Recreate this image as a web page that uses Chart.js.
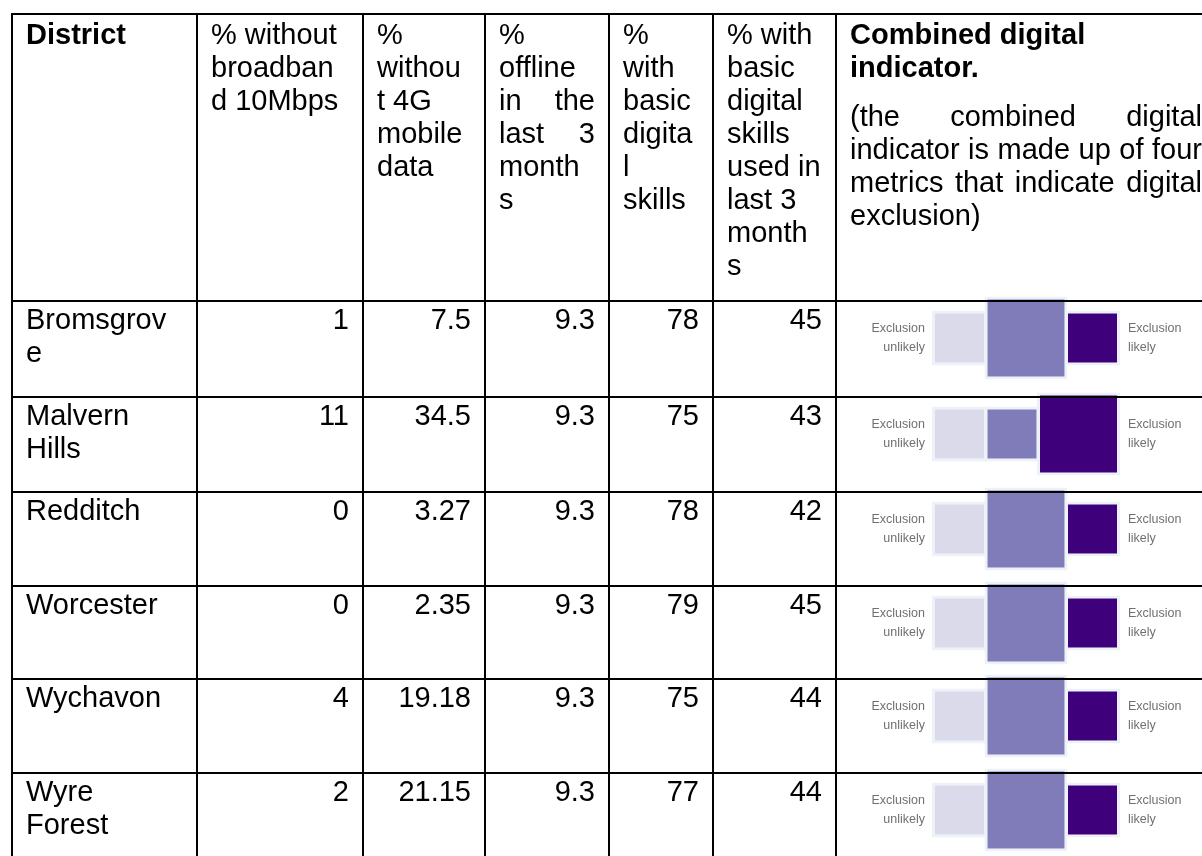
<!DOCTYPE html>
<html>
<head>
<meta charset="utf-8">
<title>Digital exclusion by district</title>
<script src="https://cdn.jsdelivr.net/npm/chart.js@4.4.0/dist/chart.umd.min.js"></script>
<style>
  html { background: #fff; }
  html, body { margin: 0; width: 1202px; height: 856px; overflow: hidden; }
  table {
    position: absolute; left: 11px; top: 13px;
    border-collapse: collapse; table-layout: fixed; width: 1204px;
    font-family: "Liberation Sans", Arial, sans-serif; font-size: 29px; line-height: 33px; color: #000;
  }
  td { border: 2px solid #000; padding: 1px 13px 0; vertical-align: top; box-sizing: border-box; }
  thead td { padding-top: 3px; height: 287px; }
  .num { text-align: right; }
  .j { text-align: justify; text-align-last: justify; }
  .note { margin-top: 16px; }
  .r0 td { height: 96px; }
  .r1 td { height: 95px; }
  .r2 td { height: 94px; }
  .r3 td { height: 93px; }
  .r4 td { height: 94px; }
  .r5 td { height: 94px; }
  td.ind { position: relative; padding: 0; }
  .sq { position: absolute; left: 89px; top: -7px; width: 200px; height: 86px; z-index: -1; }
  .lab {
    position: absolute; top: 17px; font-size: 12.5px; line-height: 19px; color: #707070;
  }
  .lab.left { left: 0; width: 88px; text-align: right; }
  .lab.right { left: 291px; text-align: left; }
</style>
</head>
<body>
<table>
  <colgroup>
    <col style="width:185px"><col style="width:166px"><col style="width:122px"><col style="width:124px">
    <col style="width:104px"><col style="width:123px"><col style="width:380px">
  </colgroup>
  <thead>
    <tr>
      <td><b>District</b></td>
      <td><div>% without</div><div>broadban</div><div>d 10Mbps</div></td>
      <td><div>%</div><div>withou</div><div>t 4G</div><div>mobile</div><div>data</div></td>
      <td><div>%</div><div>offline</div><div class="j">in the</div><div class="j">last 3</div><div>month</div><div>s</div></td>
      <td><div>%</div><div>with</div><div>basic</div><div>digita</div><div>l</div><div>skills</div></td>
      <td><div>% with</div><div>basic</div><div>digital</div><div>skills</div><div>used in</div><div>last 3</div><div>month</div><div>s</div></td>
      <td>
        <b><div>Combined digital</div><div>indicator.</div></b>
        <div class="note">
          <div class="j">(the combined digital</div>
          <div class="j">indicator is made up of four</div>
          <div class="j">metrics that indicate digital</div>
          <div>exclusion)</div>
        </div>
      </td>
    </tr>
  </thead>
  <tbody id="rows"></tbody>
</table>

<script>
// table data
const districtLines = [["Bromsgrov", "e"], ["Malvern", "Hills"], ["Redditch"], ["Worcester"], ["Wychavon"], ["Wyre", "Forest"]];
const noBroadband = [1, 11, 0, 0, 4, 2];
const no4G = [7.5, 34.5, 3.27, 2.35, 19.18, 21.15];
const offline = [9.3, 9.3, 9.3, 9.3, 9.3, 9.3];
const basicSkills = [78, 75, 78, 79, 75, 77];
const skillsUsed = [45, 43, 42, 45, 44, 44];

// combined indicator: which of the three squares is the big one (0 = unlikely .. 2 = likely)
const indicatorLevel = [1, 2, 1, 1, 1, 1];
const indicatorColours = ["#dadaea", "#807cba", "#3f007c"];

// square look
const SMALL = 49, BIG = 77, HALO = 3, GAP = 3.5;
const HALO_COLOUR = "#edf1f8";

// build rows
document.getElementById("rows").innerHTML = districtLines
  .map((lines, i) => `
    <tr class="r${i}">
      <td>${lines.map((l) => `<div>${l}</div>`).join("")}</td>
      <td class="num">${noBroadband[i]}</td>
      <td class="num">${no4G[i]}</td>
      <td class="num">${offline[i]}</td>
      <td class="num">${basicSkills[i]}</td>
      <td class="num">${skillsUsed[i]}</td>
      <td class="ind">
        <div class="lab left">Exclusion<br>unlikely</div>
        <div class="sq"><canvas id="sq${i}" width="200" height="86"></canvas></div>
        <div class="lab right">Exclusion<br>likely</div>
      </td>
    </tr>`)
  .join("");

// centres of the three squares, packed side by side around 0
const squareCentres = (level) => {
  const fills = [0, 1, 2].map((s) => (s === level ? BIG : SMALL));
  let x = -(fills[0] + fills[1] + fills[2] + 2 * GAP) / 2;
  return fills.map((f) => {
    const c = x + f / 2;
    x += f + GAP;
    return c;
  });
};

const squareSet = (points, fill) => ({
  data: points,
  barThickness: fill + 2 * HALO,
  grouped: false,
  borderSkipped: false,
  inflateAmount: 0,
  borderWidth: HALO,
  borderColor: HALO_COLOUR,
  backgroundColor: (ctx) => indicatorColours[ctx.raw ? ctx.raw.step : 0],
});

// one small chart per district
indicatorLevel.forEach((level, i) => {
  const centres = squareCentres(level);
  const half = (f) => f / 2 + HALO;
  const small = [0, 1, 2].filter((s) => s !== level)
    .map((s) => ({ x: centres[s], y: [-half(SMALL), half(SMALL)], step: s }));
  const big = [{ x: centres[level], y: [-half(BIG), half(BIG)], step: level }];

  new Chart(document.getElementById("sq" + i), {
    type: "bar",
    data: { datasets: [squareSet(small, SMALL), squareSet(big, BIG)] },
    options: {
      responsive: false,
      animation: false,
      events: [],
      layout: { padding: 0 },
      plugins: { legend: { display: false }, tooltip: { enabled: false } },
      scales: {
        x: { type: "linear", min: -100, max: 100, offset: false, display: false },
        y: { min: -43, max: 43, display: false },
      },
    },
  });
});
</script>
</body>
</html>
